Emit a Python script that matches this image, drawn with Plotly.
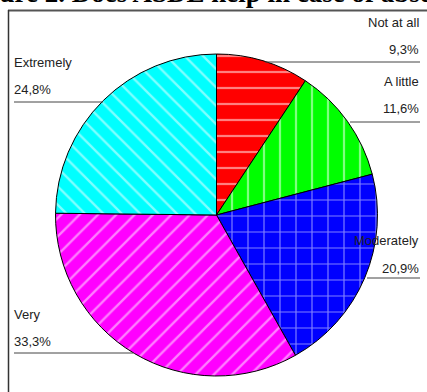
import plotly.graph_objects as go

labels = ["Not at all", "A little", "Moderately", "Very", "Extremely"]
values = [9.3, 11.6, 20.9, 33.3, 24.8]
colors = ["#ff0000", "#00ff00", "#0000ff", "#ff00ff", "#00ffff"]
patterns = ["-", "|", "+", "/", "\\"]
title_text = "Figure 2. Does ASDE help in case of absence of the supervisor?"

W, H = 427, 392

def px(x):
    return x / W

def py(y):
    return (H - y) / H

fig = go.Figure()
fig.add_trace(go.Pie(
    labels=labels, values=values, sort=False, direction="clockwise", rotation=0,
    textinfo="none", hoverinfo="label+percent",
    marker=dict(colors=colors, line=dict(color="#000000", width=1),
                pattern=dict(shape=patterns, fgcolor="#ffffff", size=[16, 16, 16, 13, 13],
                             solidity=[0.14, 0.14, 0.14, 0.18, 0.18], fillmode="overlay")),
    domain=dict(x=[px(55.5), px(377.5)], y=[py(376), py(54)]),
    showlegend=False,
))

# label layout: (x, y_name, y_pct, anchor, line x0, line x1, line y)
label_pos = {
    "Not at all": (421, 23, 50, "right", 265, 420, 62),
    "A little": (421, 82, 109, "right", 350, 420, 122),
    "Moderately": (421, 240, 268, "right", 367, 420, 278),
    "Very": (12, 314, 341, "left", 14, 133, 353),
    "Extremely": (12, 63, 90, "left", 14, 103, 102),
}

annotations = []
shapes = []
for lab, val in zip(labels, values):
    x, yn, yp, anc, lx0, lx1, ly = label_pos[lab]
    pct = ("%.1f%%" % val).replace(".", ",")
    for t, yy in ((lab, yn), (pct, yp)):
        annotations.append(dict(text=t, x=px(x), y=py(yy), xref="paper", yref="paper",
                                xanchor=anc, yanchor="middle", showarrow=False,
                                font=dict(family="Liberation Sans, Arial", size=13, color="#222222")))
    shapes.append(dict(type="line", xref="paper", yref="paper", x0=px(lx0), x1=px(lx1),
                       y0=py(ly), y1=py(ly), line=dict(color="#444444", width=1)))

# frame
shapes.append(dict(type="line", xref="paper", yref="paper", x0=px(8), x1=px(430), y0=py(10.5), y1=py(10.5),
                   line=dict(color="#555555", width=2)))
shapes.append(dict(type="line", xref="paper", yref="paper", x0=px(8.5), x1=px(8.5), y0=py(10), y1=py(400),
                   line=dict(color="#333333", width=1.5)))

annotations.append(dict(text="<b>" + title_text + "</b>", x=px(-40), y=py(10), xref="paper", yref="paper",
                        xanchor="left", yanchor="bottom", showarrow=False,
                        font=dict(family="Liberation Serif, Times New Roman", size=27, color="#000000")))

fig.update_layout(width=W, height=H, margin=dict(l=0, r=0, t=0, b=0),
                  paper_bgcolor="white", plot_bgcolor="white",
                  annotations=annotations, shapes=shapes)

fig.write_html("out.html")
